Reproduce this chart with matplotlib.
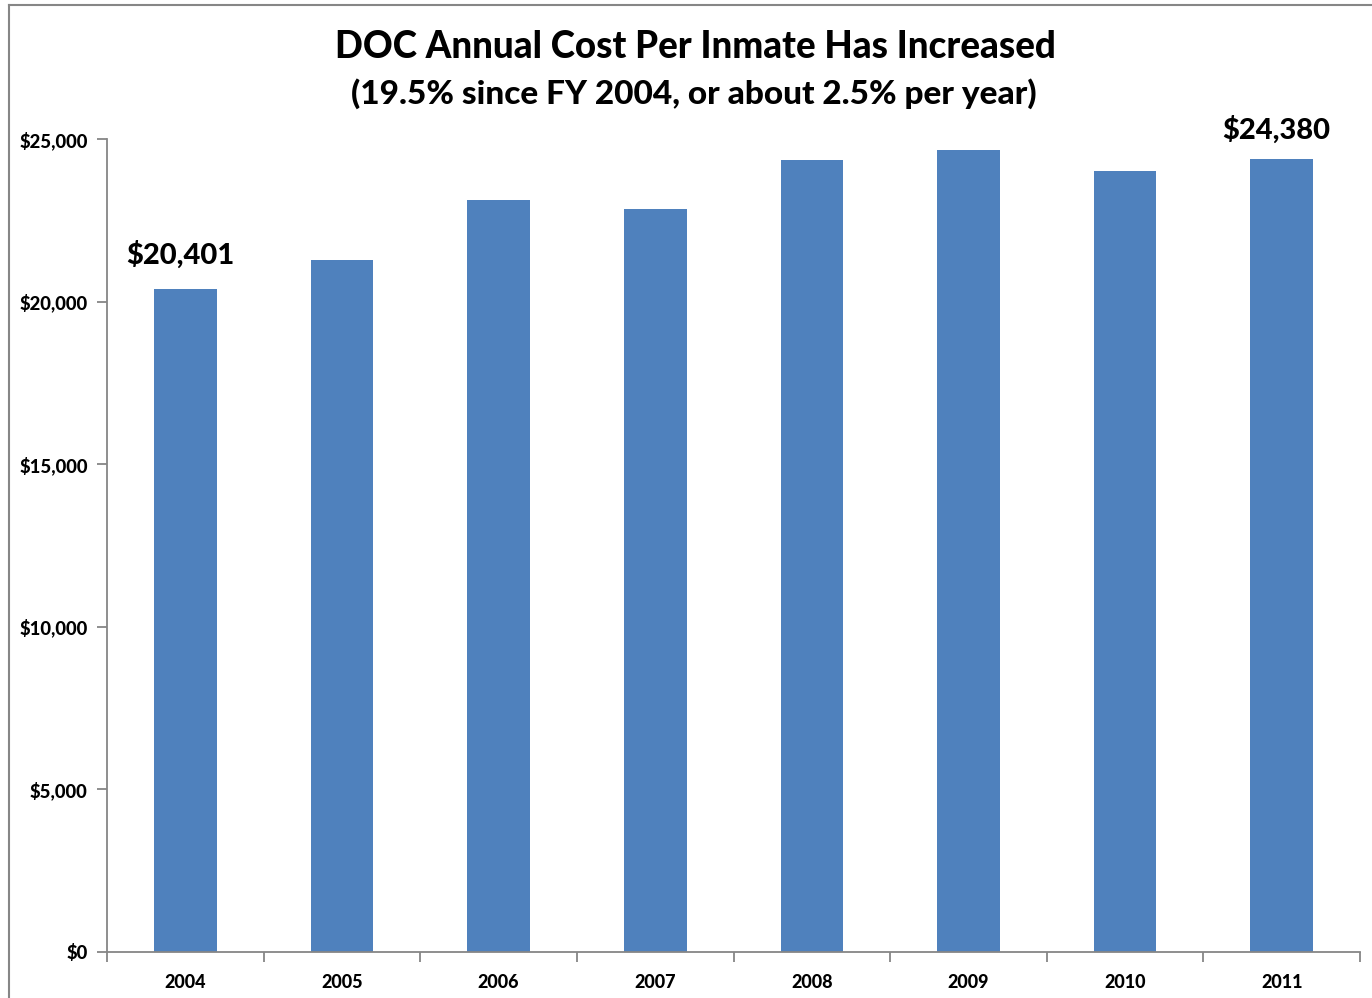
import matplotlib
matplotlib.use("Agg")
import matplotlib.pyplot as plt
from matplotlib.lines import Line2D
from matplotlib.ticker import FuncFormatter, FixedLocator

plt.rcParams["font.family"] = ["Lato", "DejaVu Sans"]
W = "black"

years = ["2004", "2005", "2006", "2007", "2008", "2009", "2010", "2011"]
cost = [20401, 21280, 23120, 22850, 24350, 24660, 24020, 24380]
labelled = {0: "$20,401", 7: "$24,380"}

BAR = "#4F81BD"
AXIS = "#868686"

fig = plt.figure(figsize=(13.72, 9.98), dpi=100)
ax = fig.add_axes([0.078, 0.0461, 0.9133, 0.8146])

x = list(range(len(years)))
ax.bar(x, cost, width=0.4, color=BAR, zorder=2)

ax.set_xlim(-0.5, len(years) - 0.5)
ax.set_ylim(0, 25000)
ax.set_yticks(range(0, 25001, 5000))
ax.yaxis.set_major_formatter(FuncFormatter(lambda v, p: f"${v:,.0f}"))
ax.set_xticks(x)
ax.set_xticklabels(years)
ax.xaxis.set_minor_locator(FixedLocator([i - 0.5 for i in range(len(years) + 1)]))

for side in ["top", "right"]:
    ax.spines[side].set_visible(False)
for side in ["left", "bottom"]:
    ax.spines[side].set_color(AXIS)
    ax.spines[side].set_linewidth(1.3)

ax.tick_params(axis="y", direction="out", length=7, color=AXIS, width=1.3,
               labelsize=13.3, pad=7)
ax.tick_params(axis="x", which="major", length=0, labelsize=13, pad=16)
ax.tick_params(axis="x", which="minor", direction="out", length=7, color=AXIS, width=1.3)
for lab in ax.get_xticklabels() + ax.get_yticklabels():
    lab.set_fontweight(W)

# value labels on first and last bar
for i, txt in labelled.items():
    ax.annotate(txt, (x[i], cost[i]), xytext=(-5, 34 if i == 0 else 29),
                textcoords="offset pixels", ha="center", va="center",
                fontsize=21, fontweight=W)

fig.text(0.507, 0.953, "DOC Annual Cost Per Inmate Has Increased",
         ha="center", va="center", fontsize=26.5, fontweight=W)
fig.text(0.506, 0.906, "(19.5% since FY 2004, or about 2.5% per year)",
         ha="center", va="center", fontsize=24, fontweight=W)

# outer chart frame (left and top edges visible)
fig.add_artist(Line2D([0.0062, 0.0062], [0, 0.995], color=AXIS, lw=1.5))
fig.add_artist(Line2D([0.0062, 1.0], [0.995, 0.995], color=AXIS, lw=1.5))

fig.savefig("out.png", dpi=100)
